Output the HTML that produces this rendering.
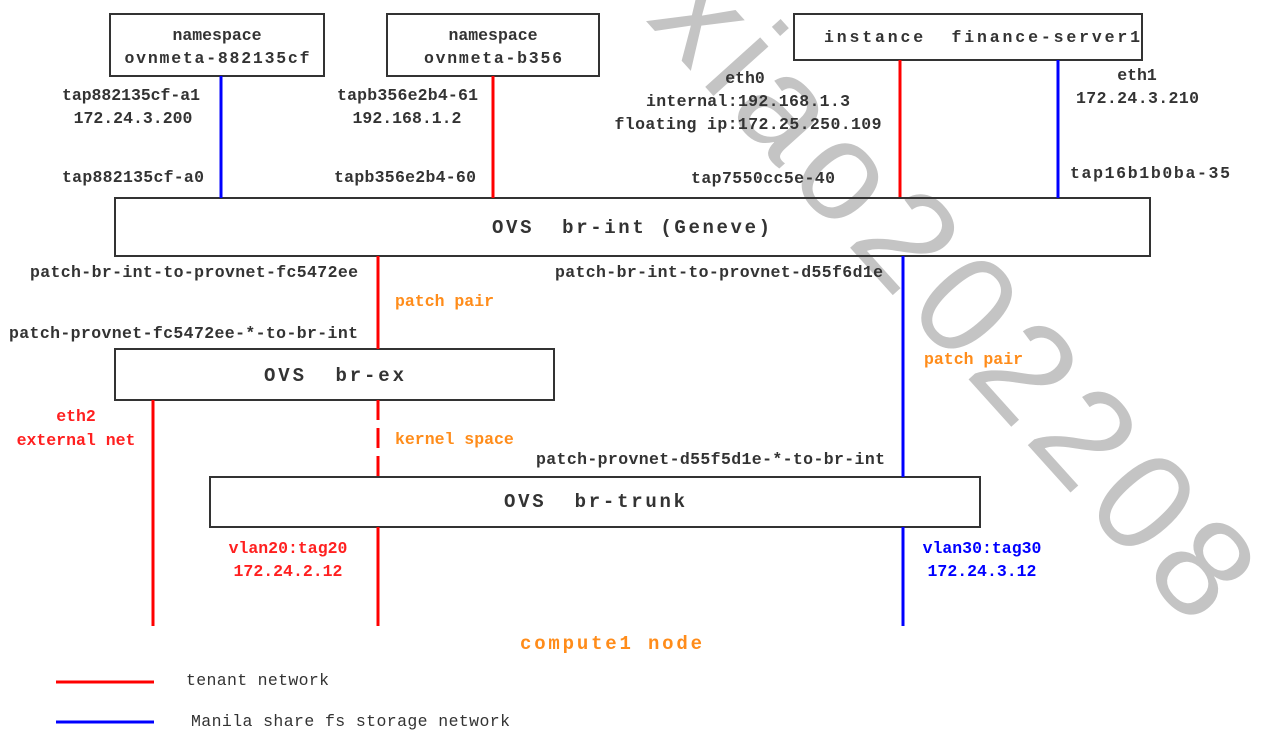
<!DOCTYPE html>
<html><head><meta charset="utf-8"><style>
html,body{margin:0;padding:0;background:#fff;}
svg{display:block;}
text{font-family:"Liberation Mono",monospace;font-weight:bold;fill:#333;}
.s{font-size:16.5px;}
.b{font-size:19px;}
.o{fill:#ff8c1a;}
.r{fill:#ff2020;}
.bl{fill:#0000ff;}
</style></head><body>
<svg width="1286" height="755" viewBox="0 0 1286 755" xmlns="http://www.w3.org/2000/svg">
<rect width="1286" height="755" fill="#fff"/>
<!-- watermark -->
<text x="645" y="20" transform="rotate(48 645 20)" style="font-family:'Liberation Sans',sans-serif;font-weight:normal;font-size:140px;fill:#c4c4c4" textLength="820" lengthAdjust="spacing">xiao202208</text>

<!-- boxes -->
<g fill="none" stroke="#333" stroke-width="2">
<rect x="110" y="14" width="214" height="62"/>
<rect x="387" y="14" width="212" height="62"/>
<rect x="794" y="14" width="348" height="46"/>
<rect x="115" y="198" width="1035" height="58"/>
<rect x="115" y="349" width="439" height="51"/>
<rect x="210" y="477" width="770" height="50"/>
</g>
<!-- lines -->
<g stroke-width="3">
<line x1="221" y1="76" x2="221" y2="198" stroke="#0000ff"/>
<line x1="493" y1="76" x2="493" y2="198" stroke="#ff0000"/>
<line x1="900" y1="60" x2="900" y2="197" stroke="#ff0000"/>
<line x1="1058" y1="60" x2="1058" y2="198" stroke="#0000ff"/>
<line x1="378" y1="256" x2="378" y2="349" stroke="#ff0000"/>
<line x1="153" y1="400" x2="153" y2="626" stroke="#ff0000"/>
<line x1="378" y1="400" x2="378" y2="477" stroke="#ff0000" stroke-dasharray="20 8"/>
<line x1="378" y1="527" x2="378" y2="626" stroke="#ff0000"/>
<line x1="903" y1="256" x2="903" y2="477" stroke="#0000ff"/>
<line x1="903" y1="527" x2="903" y2="626" stroke="#0000ff"/>
<line x1="56" y1="682" x2="154" y2="682" stroke="#ff0000"/>
<line x1="56" y1="722" x2="154" y2="722" stroke="#0000ff"/>
</g>

<!-- box labels -->
<text class="s" x="217" y="40" text-anchor="middle">namespace</text>
<text class="s" x="217" y="63" text-anchor="middle" textLength="185">ovnmeta-882135cf</text>
<text class="s" x="493" y="40" text-anchor="middle">namespace</text>
<text class="s" x="493" y="63" text-anchor="middle" textLength="138">ovnmeta-b356</text>
<text class="s" x="824" y="42" xml:space="preserve" textLength="316">instance  finance-server1</text>
<text class="b" x="492" y="233" xml:space="preserve" textLength="278">OVS  br-int (Geneve)</text>
<text class="b" x="264" y="381" xml:space="preserve" textLength="140">OVS  br-ex</text>
<text class="b" x="504" y="507" xml:space="preserve" textLength="181">OVS  br-trunk</text>

<!-- port labels -->
<text class="s" x="200" y="100" text-anchor="end" textLength="138">tap882135cf-a1</text>
<text class="s" x="133" y="123" text-anchor="middle">172.24.3.200</text>
<text class="s" x="204" y="182" text-anchor="end" textLength="142">tap882135cf-a0</text>
<text class="s" x="478" y="100" text-anchor="end" textLength="141">tapb356e2b4-61</text>
<text class="s" x="407" y="123" text-anchor="middle">192.168.1.2</text>
<text class="s" x="476" y="182" text-anchor="end" textLength="142">tapb356e2b4-60</text>
<text class="s" x="745" y="83" text-anchor="middle">eth0</text>
<text class="s" x="748" y="106" text-anchor="middle" textLength="204">internal:192.168.1.3</text>
<text class="s" x="748" y="129" text-anchor="middle" textLength="267">floating ip:172.25.250.109</text>
<text class="s" x="835" y="183" text-anchor="end" textLength="144">tap7550cc5e-40</text>
<text class="s" x="1137" y="80" text-anchor="middle">eth1</text>
<text class="s" x="1076" y="103" textLength="123">172.24.3.210</text>
<text class="s" x="1070" y="178" textLength="160">tap16b1b0ba-35</text>
<text class="s" x="358" y="277" text-anchor="end" textLength="328">patch-br-int-to-provnet-fc5472ee</text>
<text class="s" x="883" y="277" text-anchor="end" textLength="328">patch-br-int-to-provnet-d55f6d1e</text>
<text class="s" x="358" y="338" text-anchor="end" textLength="349">patch-provnet-fc5472ee-*-to-br-int</text>
<text class="s" x="885" y="464" text-anchor="end" textLength="349">patch-provnet-d55f5d1e-*-to-br-int</text>
<text class="s o" x="395" y="306">patch pair</text>
<text class="s o" x="924" y="364">patch pair</text>
<text class="s o" x="395" y="444">kernel space</text>
<text class="s r" x="76" y="421" text-anchor="middle">eth2</text>
<text class="s r" x="76" y="445" text-anchor="middle">external net</text>
<text class="s r" x="288" y="553" text-anchor="middle">vlan20:tag20</text>
<text class="s r" x="288" y="576" text-anchor="middle">172.24.2.12</text>
<text class="s bl" x="982" y="553" text-anchor="middle">vlan30:tag30</text>
<text class="s bl" x="982" y="576" text-anchor="middle">172.24.3.12</text>
<text class="o" x="611" y="649" text-anchor="middle" style="font-size:19px" xml:space="preserve" textLength="182">compute1 node</text>
<text class="s" x="186" y="685" textLength="143" style="font-weight:normal">tenant network</text>
<text class="s" x="191" y="726" textLength="319" style="font-weight:normal">Manila share fs storage network</text>
</svg>
</body></html>
